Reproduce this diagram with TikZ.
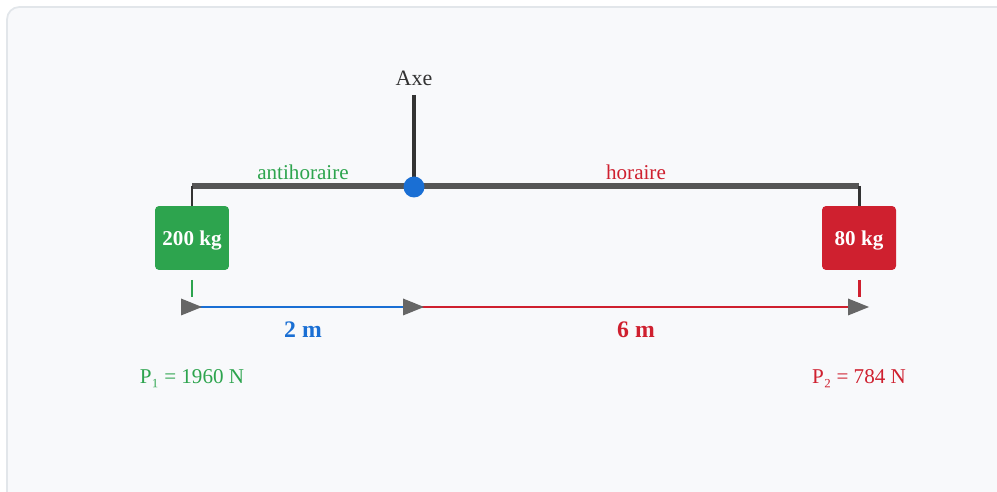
\documentclass[tikz,border=0pt]{standalone}
\usepackage{fontspec}
\setmainfont{Liberation Serif}
\usetikzlibrary{positioning, shapes, arrows.meta, calc}

\definecolor{cardbg}{HTML}{F8F9FB}
\definecolor{cardline}{HTML}{E2E6EA}
\definecolor{beamgray}{HTML}{555555}
\definecolor{postgray}{HTML}{333333}
\definecolor{tipgray}{HTML}{666666}
\definecolor{leftgreen}{HTML}{2DA44E}
\definecolor{rightred}{HTML}{CF202F}
\definecolor{pivotblue}{HTML}{1A6FD4}

\begin{document}
\begin{tikzpicture}[x=0.02cm, y=-0.02cm,
    mass/.style={rectangle, rounded corners=2.3pt, minimum width=1.48cm, minimum height=1.28cm, text height=0.82em, text depth=0pt, text=white, font=\bfseries\fontsize{12}{14}\selectfont},
    tip/.style={fill=tipgray}]
        \useasboundingbox (0,0) rectangle (997,492);
        \draw[cardline, fill=cardbg, line width=1pt, rounded corners=7pt] (7,7) rectangle (1020,510);

        % lever and axis
        \node at (414, 78) [font=\fontsize{12.5}{15}\selectfont, text=postgray] (axe_label) {Axe};
        \coordinate (axe_top) at (414, 95);
        \coordinate (beam_l) at (192, 186);
        \coordinate (beam_r) at (859, 186);
        \draw[postgray, line width=2.3pt] (axe_top) -- (414, 186);
        \draw[beamgray, line width=3.4pt] (beam_l) -- (beam_r);
        \node at (414, 187) [circle, fill=pivotblue, inner sep=0pt, minimum size=0.42cm] (pivot) {};

        \node at (303, 172) [text=leftgreen, font=\fontsize{12}{14}\selectfont] (anti_label) {antihoraire};
        \node at (636, 172) [text=rightred, font=\fontsize{12}{14}\selectfont] (hor_label) {horaire};

        % masses
        \node at (192, 238) [mass, fill=leftgreen] (mass_200) {200 kg};
        \node at (859, 238) [mass, fill=rightred] (mass_80) {80 kg};
        \draw[postgray, line width=1.7pt] (beam_l) -- (mass_200.north);
        \draw[postgray, line width=1.7pt] (beam_r) -- (mass_80.north);

        \draw[leftgreen, line width=1.7pt] (192, 280) -- (192, 297);
        \draw[rightred, line width=1.7pt] (859, 280) -- (859, 297);

        % distances
        \coordinate (dist_l) at (192, 307);
        \coordinate (dist_m) at (414, 307);
        \coordinate (dist_r) at (859, 307);
        \draw[pivotblue, line width=1.4pt] (dist_l) -- (dist_m);
        \draw[rightred, line width=1.4pt] (dist_m) -- (dist_r);
        \foreach \p in {dist_l, dist_m, dist_r}
            \fill[tip] ($(\p)+(-11,-8.5)$) -- ($(\p)+(10,0)$) -- ($(\p)+(-11,8.5)$) -- cycle;

        \node at (303, 330) [text=pivotblue, font=\bfseries\fontsize{13.5}{16}\selectfont] (d_left) {2 m};
        \node at (636, 330) [text=rightred, font=\bfseries\fontsize{13.5}{16}\selectfont] (d_right) {6 m};

        % weights
        \node at (192, 379) [text=leftgreen, font=\fontsize{12}{14}\selectfont] (p_left) {P₁ = 1960 N};
        \node at (859, 379) [text=rightred, font=\fontsize{12}{14}\selectfont] (p_right) {P₂ = 784 N};
\end{tikzpicture}
\end{document}
